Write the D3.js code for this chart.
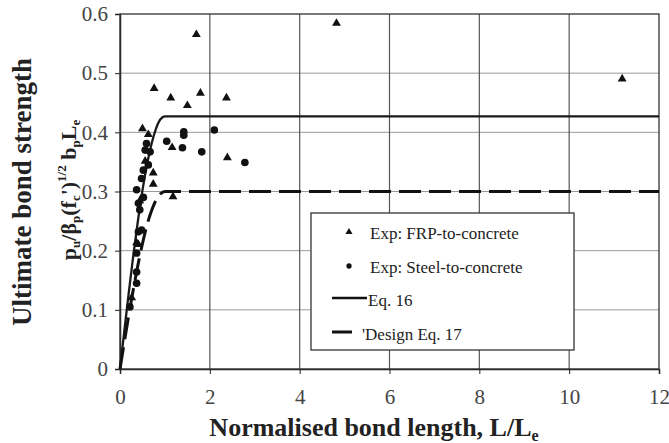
<!DOCTYPE html>
<html>
<head>
<meta charset="utf-8">
<script src="https://cdn.jsdelivr.net/npm/d3@7"></script>
<style>
  body { margin: 0; background: #fff; }
  svg { display: block; font-family: "Liberation Serif", "DejaVu Serif", serif; }
</style>
</head>
<body>
<svg id="chart" width="669" height="443"></svg>
<script>
// Experimental points: [L/Le, normalised strength]
const frpPoints = [
  [1.70, 0.567], [0.76, 0.476], [1.13, 0.460], [1.79, 0.468], [1.50, 0.447],
  [2.37, 0.460], [0.50, 0.408], [0.63, 0.398], [1.16, 0.376], [2.39, 0.359],
  [1.18, 0.293], [0.74, 0.333], [0.74, 0.314], [0.56, 0.353], [0.44, 0.286],
  [0.37, 0.215], [0.41, 0.212], [0.26, 0.122], [4.82, 0.586], [11.18, 0.492]
];
const steelPoints = [
  [1.42, 0.401], [1.42, 0.395], [2.10, 0.404], [1.04, 0.385], [1.39, 0.374],
  [1.82, 0.367], [2.78, 0.349], [0.59, 0.381], [0.56, 0.370], [0.67, 0.367],
  [0.63, 0.345], [0.52, 0.336], [0.48, 0.322], [0.37, 0.303], [0.41, 0.280],
  [0.44, 0.269], [0.48, 0.235], [0.41, 0.232], [0.37, 0.196], [0.37, 0.164],
  [0.37, 0.145], [0.22, 0.105], [0.52, 0.290]
];

// model curves
const curveX = [0, 0.1, 0.2, 0.3, 0.4, 0.5, 0.6, 0.7, 0.8, 0.9, 1.0, 12];
const eq16Y = [0, 0.067, 0.132, 0.194, 0.251, 0.302, 0.345, 0.380, 0.406, 0.422, 0.427, 0.427];
const eq17Y = [0, 0.047, 0.093, 0.136, 0.176, 0.212, 0.243, 0.267, 0.285, 0.296, 0.300, 0.300];

const xTicks = [0, 2, 4, 6, 8, 10, 12];
const yTicks = [0, 0.1, 0.2, 0.3, 0.4, 0.5, 0.6];

const svg = d3.select("#chart");
const x = d3.scaleLinear().domain([0, 12]).range([120, 659]);
const y = d3.scaleLinear().domain([0, 0.6]).range([369, 14]);

// grid
svg.append("g")
  .selectAll("line")
  .data(yTicks.slice(1, -1))
  .join("line")
  .attr("x1", x(0)).attr("x2", x(12))
  .attr("y1", d => y(d)).attr("y2", d => y(d))
  .attr("stroke", "#9a9a9a").attr("stroke-width", 1);

svg.append("g")
  .selectAll("line")
  .data(xTicks.slice(1, -1))
  .join("line")
  .attr("x1", d => x(d)).attr("x2", d => x(d))
  .attr("y1", y(0)).attr("y2", y(0.6))
  .attr("stroke", "#555").attr("stroke-width", 1.2);

// axes
const xAxis = svg.append("g")
  .attr("transform", `translate(0,${y(0)})`)
  .call(d3.axisBottom(x).tickValues(xTicks).tickSize(5).tickPadding(15).tickFormat(d3.format("d")));
const yAxis = svg.append("g")
  .attr("transform", `translate(${x(0)},0)`)
  .call(d3.axisLeft(y).tickValues(yTicks).tickSize(5).tickPadding(7).tickFormat(d => d === 0 ? "0" : d3.format(".1f")(d)));
[xAxis, yAxis].forEach(a => {
  a.select(".domain").attr("stroke", "#222").attr("stroke-width", 1.5);
  a.selectAll(".tick line").attr("stroke", "#222");
  a.selectAll(".tick text")
    .attr("font-family", "Liberation Serif, serif")
    .attr("font-size", 21).attr("fill", "#444");
});

// frame top / right
svg.append("rect")
  .attr("x", x(0)).attr("y", y(0.6))
  .attr("width", x(12) - x(0)).attr("height", y(0) - y(0.6))
  .attr("fill", "none").attr("stroke", "#333").attr("stroke-width", 1.3);

// curves
const line = d3.line().x(d => x(d[0])).y(d => y(d[1])).curve(d3.curveMonotoneX);
svg.append("path")
  .datum(curveX.map((v, i) => [v, eq16Y[i]]))
  .attr("d", line)
  .attr("fill", "none").attr("stroke", "#1a1a1a").attr("stroke-width", 2.3);
svg.append("path")
  .datum(curveX.map((v, i) => [v, eq17Y[i]]))
  .attr("d", line)
  .attr("fill", "none").attr("stroke", "#111").attr("stroke-width", 3)
  .attr("stroke-dasharray", "22,8");

// points
const tri = d3.symbol().type(d3.symbolTriangle).size(34);
const circ = d3.symbol().type(d3.symbolCircle).size(46);
svg.append("g")
  .selectAll("path")
  .data(steelPoints)
  .join("path")
  .attr("d", circ)
  .attr("transform", d => `translate(${x(d[0])},${y(d[1])})`)
  .attr("fill", "#111");
svg.append("g")
  .selectAll("path")
  .data(frpPoints)
  .join("path")
  .attr("d", tri)
  .attr("transform", d => `translate(${x(d[0])},${y(d[1]) + 1})`)
  .attr("fill", "#111");

// legend
const lg = svg.append("g");
lg.append("rect")
  .attr("x", 311).attr("y", 213).attr("width", 263).attr("height", 137)
  .attr("fill", "#fff").attr("stroke", "#333").attr("stroke-width", 1.3);
lg.append("path").attr("d", d3.symbol().type(d3.symbolTriangle).size(22))
  .attr("transform", "translate(349,232)").attr("fill", "#111");
lg.append("text").attr("x", 370).attr("y", 239).text("Exp: FRP-to-concrete");
lg.append("path").attr("d", d3.symbol().type(d3.symbolCircle).size(22))
  .attr("transform", "translate(349,266)").attr("fill", "#111");
lg.append("text").attr("x", 370).attr("y", 273).text("Exp: Steel-to-concrete");
lg.append("line").attr("x1", 332).attr("x2", 367).attr("y1", 298).attr("y2", 298)
  .attr("stroke", "#111").attr("stroke-width", 2.3);
lg.append("text").attr("x", 368).attr("y", 306).text("Eq. 16");
lg.append("line").attr("x1", 332).attr("x2", 352).attr("y1", 332).attr("y2", 332)
  .attr("stroke", "#111").attr("stroke-width", 3);
lg.append("text").attr("x", 362).attr("y", 340).text("'Design Eq. 17");
lg.selectAll("text").attr("font-size", 17).attr("fill", "#222");

// axis titles
svg.append("text")
  .attr("x", 374).attr("y", 436)
  .attr("text-anchor", "middle")
  .attr("font-size", 26).attr("font-weight", "bold").attr("fill", "#222")
  .call(t => {
    t.append("tspan").text("Normalised bond length, L/L");
    t.append("tspan").attr("font-size", 16).attr("dy", 5).text("e");
  });

svg.append("text")
  .attr("transform", "translate(31,192) rotate(-90)")
  .attr("text-anchor", "middle")
  .attr("font-size", 27).attr("font-weight", "bold").attr("fill", "#222")
  .text("Ultimate bond strength");

const lab2 = svg.append("text")
  .attr("transform", "translate(76,190) rotate(-90)")
  .attr("text-anchor", "middle")
  .attr("font-weight", "bold").attr("fill", "#222");
// [text, size, vertical shift]
const parts = [
  ["p", 22, 0], ["u", 13, 4], ["/β", 22, -4], ["p", 13, 4], ["(f", 22, -4], ["c", 13, 4], ["')", 22, -4],
  ["1/2", 13, -10], [" b", 22, 10], ["p", 13, 4], ["L", 22, -4], ["e", 13, 4]
];
parts.forEach(([txt, size, shift]) => {
  lab2.append("tspan").attr("dy", shift).attr("font-size", size).text(txt);
});
</script>
</body>
</html>
